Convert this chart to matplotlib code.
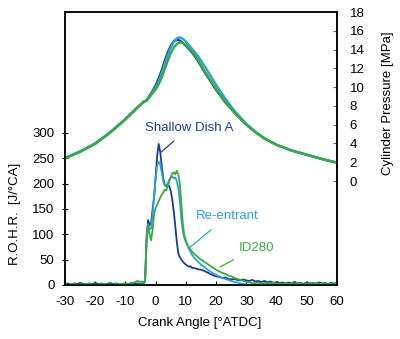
import numpy as np
import matplotlib
matplotlib.use("Agg")
import matplotlib.pyplot as plt

plt.rcParams['font.family'] = ['Liberation Sans', 'DejaVu Sans']
plt.rcParams['axes.unicode_minus'] = False

# ---- cylinder pressure [MPa] vs crank angle [deg ATDC] ----
p_angle = [-30, -25, -20, -15, -10, -6, -4, -3, -2, -1, 0, 1, 2, 3, 4, 5, 6, 7, 8,
           9, 10, 12, 14, 16, 18, 20, 23, 26, 30, 33, 36, 40, 45, 50, 55, 60]
p_shallow = [2.45, 3.15, 4.0, 5.2, 6.6, 7.85, 8.45, 8.6, 9.1, 9.6, 10.2, 10.95, 11.8,
             12.8, 13.7, 14.4, 14.9, 15.05, 14.95, 14.7, 14.4, 13.7, 12.8, 11.7,
             10.7, 9.7, 8.4, 7.3, 6.0, 5.2, 4.55, 3.85, 3.25, 2.8, 2.35, 1.95]
p_reentrant = [2.45, 3.15, 4.0, 5.2, 6.6, 7.85, 8.45, 8.6, 9.05, 9.5, 10.0, 10.65, 11.5,
               12.5, 13.4, 14.2, 14.8, 15.2, 15.3, 15.15, 14.85, 14.1, 13.3, 12.35,
               11.3, 10.25, 8.8, 7.5, 6.1, 5.25, 4.55, 3.85, 3.25, 2.8, 2.35, 1.95]
p_id280 = [2.4, 3.1, 3.95, 5.15, 6.55, 7.8, 8.4, 8.55, 8.95, 9.35, 9.75, 10.3, 11.0,
           11.9, 12.8, 13.6, 14.2, 14.6, 14.75, 14.7, 14.5, 13.8, 12.9, 11.8, 10.8,
           9.8, 8.45, 7.3, 6.0, 5.2, 4.5, 3.85, 3.25, 2.8, 2.35, 1.95]

# ---- rate of heat release [J/deg CA] ----
r_angle = np.concatenate([np.arange(-30, -4.5, 1.0),
                          np.arange(-4.5, 12.25, 0.5),
                          np.arange(13, 60.5, 1.0)])
r_shallow = [2, 3, 1, 3, 2, 4, 2, 1, 3, 2, 4, 2, 3, 1, 2, 4, 2, 3, 1, 2, 3, 2, 4, 2, 3, 2,
             2, 3, 10, 95, 128, 118, 122, 150, 175, 215, 255, 278, 262, 235, 210, 198,
             194, 198, 195, 185, 168, 145, 115, 85, 62, 55, 50, 46, 43, 40, 38, 36, 37, 34,
             33, 31, 30, 28, 25, 22, 19, 17, 16, 14, 15, 12, 11, 12, 10, 9, 11, 9, 8, 10,
             7, 8, 6, 8, 5, 7, 4, 6, 4, 5, 3, 5, 3, 6, 3, 4, 2, 5, 3, 4, 2, 5, 3, 4, 2, 4,
             3, 4]
r_reentrant = [1, 0, 1, 1, 0, 1, 0, 1, 1, 0, 1, 0, 1, 1, 0, 1, 0, 1, 0, 1, 1, 0, 1, 0, 1, 1,
               1, 2, 8, 90, 120, 110, 112, 140, 175, 210, 235, 243, 238, 222, 205, 196,
               196, 200, 208, 212, 214, 210, 212, 205, 190, 165, 130, 105, 92, 85, 78,
               72, 66, 60,
               52, 46, 40, 36, 31, 27, 23, 20, 17, 14, 12, 10, 8, 6, 5, 3, 2, 1, 0, 1,
               0, 1, 0, 1, 0, 0, 1, 0, 1, 0, 0, 1, 0, 1, 0, 0, 1, 0, 1, 0, 0, 1, 0, 1, 0,
               0, 1, 0]
r_id280 = [1, 0, 1, 2, 1, 0, 1, 1, 2, 1, 0, 1, 2, 1, 1, 0, 1, 2, 1, 2, 3, 2, 4, 5, 8, 6,
           7, 4, 6, 85, 118, 100, 88, 110, 140, 152, 158, 165, 172, 178, 182, 188, 186,
           195, 205, 212, 220, 222, 218, 225, 218, 200, 160, 120, 98, 88, 80, 74, 70, 66,
           60, 55, 50, 46, 42, 38, 34, 30, 27, 24, 22, 19, 17, 14, 12, 10, 8, 6, 5, 4,
           3, 5, 2, 4, 3, 2, 5, 2, 3, 2, 4, 1, 3, 2, 4, 2, 3, 1, 3, 2, 4, 2, 3, 1, 3, 2,
           3, 2]

c_shallow = '#1c3d8f'
c_reentrant = '#2ba1dc'
c_id280 = '#3aab3a'

fig = plt.figure(figsize=(4.0, 3.39), dpi=100)
ax = fig.add_axes([0.1625, 0.1593, 0.68, 0.8053])
ax2 = ax.twinx()

# heat release on the left axis
ax.plot(r_angle, r_shallow, color=c_shallow, lw=1.3, zorder=3)
ax.plot(r_angle, r_reentrant, color=c_reentrant, lw=1.3, zorder=3)
ax.plot(r_angle, r_id280, color=c_id280, lw=1.3, zorder=3)

# pressure on the right axis
ax2.plot(p_angle, p_shallow, color=c_shallow, lw=1.7)
ax2.plot(p_angle, p_reentrant, color=c_reentrant, lw=1.7)
ax2.plot(p_angle, p_id280, color=c_id280, lw=1.7)

ax.set_xlim(-30, 60)
ax.set_ylim(0, 538)
ax.set_xticks(np.arange(-30, 61, 10))
ax.set_yticks(np.arange(0, 301, 50))
ax2.set_ylim(-11.07, 18)
ax2.set_yticks(np.arange(0, 19, 2))

ax.tick_params(axis='x', direction='in', length=3, width=0.8, labelsize=9.5, pad=8)
ax.tick_params(axis='y', direction='inout', length=5, width=0.8, labelsize=9.5, pad=5)
ax2.tick_params(axis='y', direction='in', length=3, width=0.8, labelsize=9.5, pad=9,
                color='#556677')

for a in (ax, ax2):
    for s in a.spines.values():
        s.set_linewidth(1.1)
        s.set_color('black')

# series labels with leader lines
ax.annotate('Shallow Dish A', xy=(1.8, 262), xytext=(11.2, 310),
            color=c_shallow, fontsize=9.5, ha='center', va='center',
            arrowprops=dict(arrowstyle='-', color=c_shallow, lw=0.9,
                            shrinkA=5, shrinkB=0))
ax.annotate('Re-entrant', xy=(10.7, 71), xytext=(23.6, 135),
            color=c_reentrant, fontsize=9.5, ha='center', va='center',
            arrowprops=dict(arrowstyle='-', color=c_reentrant, lw=0.9,
                            shrinkA=5, shrinkB=0))
ax.annotate('ID280', xy=(21.3, 35.5), xytext=(33.2, 73.6),
            color=c_id280, fontsize=9.5, ha='center', va='center',
            arrowprops=dict(arrowstyle='-', color=c_id280, lw=0.9,
                            shrinkA=5, shrinkB=0))

fig.text(15 / 400, 1 - 214 / 339, 'R.O.H.R.  [J/°CA]', rotation=90,
         ha='center', va='center', fontsize=9.5)
fig.text(388 / 400, 1 - 103 / 339, 'Cylinder Pressure [MPa]', rotation=90,
         ha='center', va='center', fontsize=9.5)
fig.text(200 / 400, 1 - 323 / 339, 'Crank Angle [°ATDC]',
         ha='center', va='center', fontsize=9.5)

fig.savefig('out.png', dpi=100)
